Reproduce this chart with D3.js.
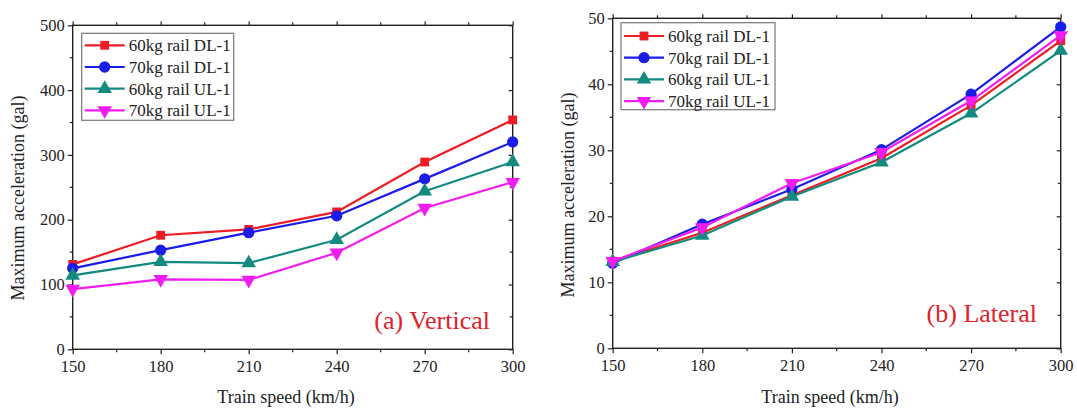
<!DOCTYPE html>
<html>
<head>
<meta charset="utf-8">
<script src="https://cdn.jsdelivr.net/npm/d3@7"></script>
<style>
  html, body { margin: 0; padding: 0; background: #fff; }
  svg { display: block; }
  text { font-family: "Liberation Serif", "Times New Roman", serif; fill: #222; }
</style>
</head>
<body>
<svg id="chart" width="1077" height="411"></svg>
<script>
// Train speeds (km/h)
const speeds = [150, 180, 210, 240, 270, 300];
const seriesNames = ["60kg rail DL-1", "70kg rail DL-1", "60kg rail UL-1", "70kg rail UL-1"];

// (a) Vertical maximum acceleration (gal)
const vert60DL = [131, 176, 185, 212, 289, 354];
const vert70DL = [125, 153, 180, 206, 263, 320];
const vert60UL = [114, 135, 133, 169, 244, 289];
const vert70UL = [93, 108, 107, 149, 218, 258];

// (b) Lateral maximum acceleration (gal)
const lat60DL = [13.2, 17.5, 23.2, 28.8, 36.8, 46.6];
const lat70DL = [12.9, 18.8, 24.1, 30.1, 38.5, 48.7];
const lat60UL = [13.1, 17.1, 23.0, 28.2, 35.6, 45.1];
const lat70UL = [13.2, 18.3, 25.0, 29.7, 37.5, 47.4];

const xTicks = [150, 180, 210, 240, 270, 300];
const vertTicks = [0, 100, 200, 300, 400, 500];
const latTicks = [0, 10, 20, 30, 40, 50];

const colors = ["#ee1c24", "#1c1ce8", "#138a80", "#f01cf0"];
const shapes = [d3.symbolSquare, d3.symbolCircle, d3.symbolTriangle, d3.symbolTriangle];
const sizes = [78, 100, 92, 92];
const rotations = [0, 0, 0, 180];

const svg = d3.select("#chart");

function panel(opt) {
  const { left, right, top, bottom, yMax, yTicks, yMinorStep, data, tag, legend, titleX, titleY } = opt;
  const x = d3.scaleLinear().domain([150, 300]).range([left, right]);
  const y = d3.scaleLinear().domain([0, yMax]).range([bottom, top]);
  const g = svg.append("g");

  const xMinor = d3.range(165, 300, 30);
  const yMinor = d3.range(yMinorStep, yMax, yMinorStep * 2);

  // bottom axis (outward ticks)
  const bottomAxis = d3.axisBottom(x).tickValues(xTicks).tickSize(5).tickPadding(6).tickFormat(d3.format("d"));
  const bg = g.append("g").attr("transform", `translate(0,${bottom})`).call(bottomAxis);
  // left axis (outward ticks)
  const leftAxis = d3.axisLeft(y).tickValues(yTicks).tickSize(5).tickPadding(3).tickFormat(d3.format("d"));
  const lg = g.append("g").attr("transform", `translate(${left},0)`).call(leftAxis);
  // top axis (no labels)
  const tg = g.append("g").attr("transform", `translate(0,${top})`)
    .call(d3.axisTop(x).tickValues(xTicks).tickSize(4).tickFormat(""));
  // right axis (inward ticks, no labels)
  const rg = g.append("g").attr("transform", `translate(${right},0)`)
    .call(d3.axisLeft(y).tickValues(yTicks).tickSize(4).tickFormat(""));

  [bg, lg, tg, rg].forEach(a => {
    a.select(".domain").remove();
    a.selectAll("line").attr("stroke", "#222").attr("stroke-width", 1.2);
    a.selectAll("text").attr("font-size", 16.5).attr("fill", "#222")
      .style("font-family", '"Liberation Serif", "Times New Roman", serif');
  });

  // minor ticks
  g.selectAll(".mxb").data(xMinor).join("line")
    .attr("x1", d => x(d)).attr("x2", d => x(d)).attr("y1", bottom).attr("y2", bottom + 3)
    .attr("stroke", "#222").attr("stroke-width", 1.2);
  g.selectAll(".mxt").data(xMinor).join("line")
    .attr("x1", d => x(d)).attr("x2", d => x(d)).attr("y1", top).attr("y2", top - 3)
    .attr("stroke", "#222").attr("stroke-width", 1.2);
  g.selectAll(".myl").data(yMinor).join("line")
    .attr("x1", left).attr("x2", left - 3).attr("y1", d => y(d)).attr("y2", d => y(d))
    .attr("stroke", "#222").attr("stroke-width", 1.2);
  g.selectAll(".myr").data(yMinor).join("line")
    .attr("x1", right).attr("x2", right - 3).attr("y1", d => y(d)).attr("y2", d => y(d))
    .attr("stroke", "#222").attr("stroke-width", 1.2);

  // frame
  g.append("rect").attr("x", left).attr("y", top).attr("width", right - left).attr("height", bottom - top)
    .attr("fill", "none").attr("stroke", "#222").attr("stroke-width", 1.4);

  // series
  const line = d3.line().x((d, i) => x(speeds[i])).y(d => y(d));
  data.forEach((vals, k) => {
    g.append("path").datum(vals).attr("d", line)
      .attr("fill", "none").attr("stroke", colors[k]).attr("stroke-width", 2.2);
    g.selectAll(null).data(vals).join("path")
      .attr("d", d3.symbol().type(shapes[k]).size(sizes[k]))
      .attr("transform", (d, i) => `translate(${x(speeds[i])},${y(d)}) rotate(${rotations[k]})`)
      .attr("fill", colors[k]);
  });

  // legend
  const lgd = g.append("g").attr("transform", `translate(${legend.x},${legend.y})`);
  lgd.append("rect").attr("width", legend.w).attr("height", legend.h)
    .attr("fill", "#fff").attr("stroke", "#777").attr("stroke-width", 1.2);
  seriesNames.forEach((name, k) => {
    const ry = legend.first + k * legend.step;
    lgd.append("line").attr("x1", 3).attr("x2", 43).attr("y1", ry).attr("y2", ry)
      .attr("stroke", colors[k]).attr("stroke-width", 2.2);
    lgd.append("path").attr("d", d3.symbol().type(shapes[k]).size(sizes[k]))
      .attr("transform", `translate(23,${ry}) rotate(${rotations[k]})`).attr("fill", colors[k]);
    lgd.append("text").attr("x", 47).attr("y", ry).attr("dy", "0.35em")
      .attr("font-size", 17).text(name);
  });

  // panel tag
  g.append("text").attr("x", tag.x).attr("y", tag.y).attr("text-anchor", "end")
    .attr("font-size", 26).style("fill", "#e2202a").text(tag.text);

  // axis titles
  g.append("text").attr("transform", `translate(${titleY.x},${titleY.y}) rotate(-90)`)
    .attr("text-anchor", "middle").attr("font-size", 18).text("Maximum acceleration (gal)");
  g.append("text").attr("x", titleX.x).attr("y", titleX.y)
    .attr("text-anchor", "middle").attr("font-size", 18).text("Train speed (km/h)");
}

panel({
  left: 72.7, right: 512.7, top: 25.3, bottom: 349.3,
  yMax: 500, yTicks: vertTicks, yMinorStep: 50,
  data: [vert60DL, vert70DL, vert60UL, vert70UL],
  tag: { x: 490, y: 329, text: "(a) Vertical" },
  legend: { x: 81.7, y: 33.3, w: 152, h: 87, first: 12, step: 21.7 },
  titleX: { x: 286, y: 403 },
  titleY: { x: 24, y: 198 }
});

panel({
  left: 612.7, right: 1060.7, top: 18.3, bottom: 348.3,
  yMax: 50, yTicks: latTicks, yMinorStep: 5,
  data: [lat60DL, lat70DL, lat60UL, lat70UL],
  tag: { x: 1037, y: 322, text: "(b) Lateral" },
  legend: { x: 621, y: 22.7, w: 154, h: 87, first: 13.3, step: 21.7 },
  titleX: { x: 830, y: 403 },
  titleY: { x: 574, y: 195 }
});
</script>
</body>
</html>
